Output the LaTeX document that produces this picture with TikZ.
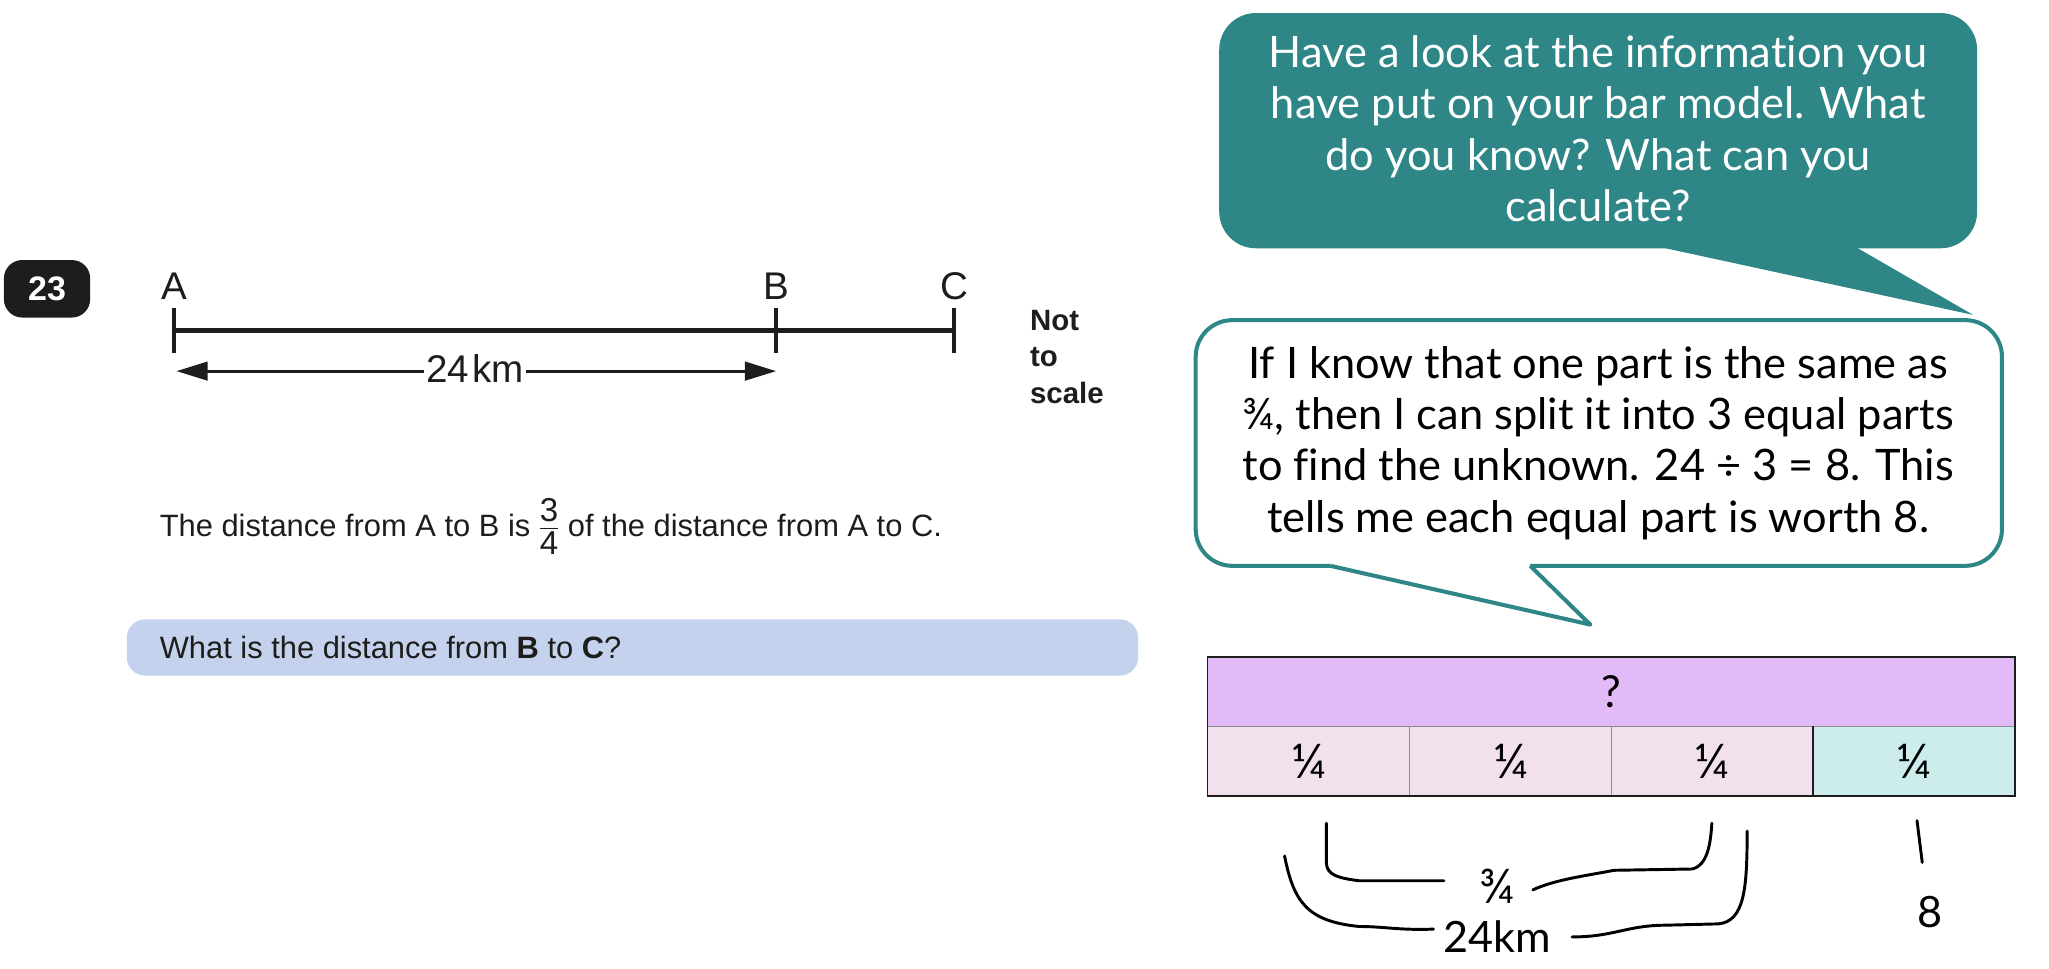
\documentclass[tikz,border=0pt]{standalone}
\usepackage{fontspec}
\setmainfont{Liberation Sans}
\newfontfamily\bubblefont[Ligatures=NoCommon]{Lato}
\usetikzlibrary{arrows.meta}
\definecolor{inkblack}{HTML}{1D1D1B}
\definecolor{tealbubble}{HTML}{2E8686}
\definecolor{questionblue}{HTML}{C5D2EE}
\definecolor{barpurple}{HTML}{E2BAF7}
\definecolor{barpink}{HTML}{F2E1EC}
\definecolor{barteal}{HTML}{CDECEC}
\newcommand{\bigdigit}[1]{\mbox{\fontsize{18}{20}\selectfont #1}}
\tikzset{
  linelabel/.style = {text=inkblack, font=\fontsize{21}{24}\selectfont, inner sep=0pt},
  noscale/.style   = {text=inkblack, font=\fontsize{16}{18}\bfseries\selectfont, anchor=west, inner sep=0pt},
  bodytext/.style  = {text=inkblack, font=\fontsize{16.8}{20}\selectfont, anchor=west, inner sep=0pt},
  bubbletext/.style = {align=center, inner sep=0pt, font=\bubblefont\fontsize{23.6}{28}\selectfont},
  cellpart/.style  = {draw=black!45, line width=0.5pt, minimum width=154.5*0.025cm, minimum height=53*0.025cm,
                      inner sep=0pt, font=\bubblefont\fontsize{26}{24}\selectfont},
  handline/.style  = {draw=black, line width=1.6pt, line cap=round, line join=round},
  handtext/.style  = {inner sep=0pt, font=\bubblefont\fontsize{23.5}{26}\selectfont}
}

\begin{document}
\begin{tikzpicture}[x=0.025cm, y=-0.025cm]
	\useasboundingbox (0,0) rectangle (1568,741);
	% question number
	\node[fill=inkblack, rounded corners=14*0.025cm, minimum width=66*0.025cm, minimum height=44*0.025cm,
	      text=white, font=\fontsize{18.5}{20}\bfseries\selectfont] (badge) at (36,221) {23};
	% distance line
	\node[linelabel] (labA) at (133.5,219) {A};
	\node[linelabel] (labB) at (594,219) {B};
	\node[linelabel] (labC) at (730,219) {C};
	\coordinate (ptA) at (133,253);
	\coordinate (ptB) at (594,253);
	\coordinate (ptC) at (730,253);
	\draw[inkblack, line width=2.6pt] (ptA) -- (ptC);
	\draw[inkblack, line width=2pt] (133,236) -- (133,270);
	\draw[inkblack, line width=2pt] (594,236) -- (594,270);
	\draw[inkblack, line width=2pt] (730,236) -- (730,270);
	\node[linelabel, inner sep=1pt] (dist) at (363.5,282) {24\kern1.5pt km};
	\coordinate (endL) at (135,284);
	\coordinate (endR) at (594,284);
	\draw[-{Triangle[length=17pt,width=10pt]}, inkblack, line width=1.7pt] (dist.west |- endL) -- (endL);
	\draw[-{Triangle[length=17pt,width=10pt]}, inkblack, line width=1.7pt] (dist.east |- endR) -- (endR);
	\node[noscale] (not) at (788,245) {Not};
	\node[noscale] (to) at (788,273) {to};
	\node[noscale] (scale) at (788,301) {scale};
	% question text
	\node[bodytext] (given) at (122,403) {The distance from A to B is\kern4pt$\frac{\bigdigit{3}\rule[-3pt]{0pt}{3pt}}{\rule{0pt}{14pt}\bigdigit{4}}$\kern4pt of the distance from A to C.};
	\node[fill=questionblue, rounded corners=14*0.025cm, minimum width=774*0.025cm, minimum height=43*0.025cm] (askbar) at (484,495.5) {};
	\node[bodytext] (ask) at (122,495.5) {What is the distance from \textbf{B} to \textbf{C}?};
	% teal speech bubble
	\fill[tealbubble, rounded corners=28*0.025cm] (933,10) rectangle (1513,190);
	\fill[tealbubble] (1270,189) -- (1510,241) -- (1420,189) -- cycle;
	\node[bubbletext, text=white] (hint) at (1223,98.5) {Have a look at the information you\\have put on your bar model. What\\do you know? What can you\\calculate?};
	% white speech bubble
	\draw[tealbubble, fill=white, line width=2.2pt, line join=round, rounded corners=28*0.025cm]
		(1018,433) -- (915,433) -- (915,245) -- (1532,245) -- (1532,433) -- (1171,433);
	\draw[tealbubble, line width=2.2pt, line join=round] (1018,433) -- (1217,478) -- (1171,433);
	\node[bubbletext, text=black] (reply) at (1223,339) {If I know that one part is the same as\\¾, then I can split it into 3 equal parts\\to find the unknown. 24 ÷ 3 = 8. This\\tells me each equal part is worth 8.};
	% bar model
	\node[draw=inkblack, line width=1pt, fill=barpurple, minimum width=618*0.025cm, minimum height=53*0.025cm,
	      inner sep=0pt, font=\bubblefont\fontsize{24}{26}\selectfont] (whole) at (1233,529.5) {?};
	\node[cellpart, fill=barpink] (partA) at (1001.5,582.5) {¼};
	\node[cellpart, fill=barpink] (partB) at (1156,582.5) {¼};
	\node[cellpart, fill=barpink] (partC) at (1310.5,582.5) {¼};
	\node[cellpart, fill=barteal] (partD) at (1465,582.5) {¼};
	\draw[inkblack, line width=1pt] (924,503) rectangle (1542,609);
	\draw[inkblack, line width=1pt] (partD.north west) -- (partD.south west);
	% handwritten brackets
	\node[handtext, font=\bubblefont\fontsize{26}{26}\selectfont] (threeq) at (1146,678) {¾};
	\node[handtext] (total) at (1146,717) {24km};
	\node[handtext] (eight) at (1477,698) {8};
	\draw[handline] (1105,674) -- (1040,674) .. controls (1025,672) and (1015,670) .. (1015,660) -- (1015,630);
	\draw[handline] (1173,681) .. controls (1190,673) and (1215,670) .. (1235,666) -- (1295,665)
		.. controls (1307,662) and (1309,645) .. (1310,630);
	\draw[handline] (1097,711) .. controls (1070,712) and (1060,709) .. (1040,709)
		.. controls (1000,705) and (990,690) .. (983,655);
	\draw[handline] (1203,717) .. controls (1235,717) and (1245,708) .. (1275,708) -- (1315,707)
		.. controls (1335,705) and (1337,680) .. (1337,636);
	\draw[handline] (1467,628) -- (1471,660);
\end{tikzpicture}
\end{document}
